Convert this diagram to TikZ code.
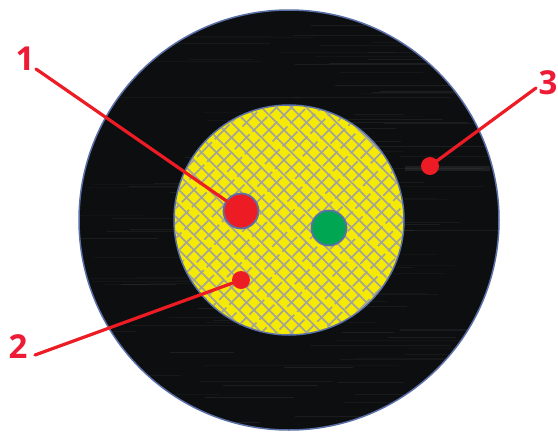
\documentclass[tikz,border=0pt]{standalone}
\usepackage{fontspec}
\setmainfont{Open Sans}
\definecolor{mark}{HTML}{ED1C24}
\definecolor{labelred}{HTML}{ED1B36}
\definecolor{rim}{HTML}{5B6FA8}
\definecolor{jacket}{HTML}{0D0E10}
\definecolor{fill}{HTML}{F5EA05}
\definecolor{weave}{HTML}{A3A29A}
\definecolor{core}{HTML}{00A651}
\begin{document}
\begin{tikzpicture}[x=1pt,y=-1pt,
  disc/.style={circle,draw=rim,inner sep=0pt,outer sep=0pt},
  dot/.style={circle,fill=mark,inner sep=0pt,outer sep=0pt},
  leader/.style={draw=mark,line width=3.2pt,line cap=round},
  num/.style={text=labelred,font=\fontsize{33}{33}\selectfont\bfseries,inner sep=0pt}]
\useasboundingbox (0,0) rectangle (558,432);
\fill[white] (0,0) rectangle (558,432);
% outer jacket
\node[disc,fill=jacket,line width=1.5pt,minimum size=420pt] (outer) at (289,220) {};
\begin{scope}
  \clip (289,220) circle (209.2);
  \pgfmathsetseed{7}
  \foreach \i in {1,...,110}{
    \pgfmathsetmacro{\yy}{12+rnd*416}
    \pgfmathsetmacro{\xa}{70+rnd*340}
    \pgfmathsetmacro{\ln}{40+rnd*160}
    \pgfmathsetmacro{\op}{0.02+rnd*0.05}
    \draw[white,opacity=\op,line width=0.9pt] (\xa,\yy) -- ++(\ln,0);
  }
  \draw[white,opacity=.07,line width=5pt] (405,168) -- (490,168);
  \draw[white,opacity=.05,line width=2pt] (400,330) -- (480,330);
\end{scope}
% filler
\node[disc,fill=fill,line width=1.5pt,minimum size=230pt] (inner) at (289,220) {};
\begin{scope}
  \clip (289,220) circle (114.2);
  \foreach \k in {-30,...,30}{
    \pgfmathsetmacro{\ph}{mod(\k*7+210,25)}
    \draw[weave,line width=1.6pt] ({289+\k*15},90) -- ++(260,260);
    \draw[weave,line width=1.6pt,dash pattern=on 21pt off 4pt,dash phase=\ph pt] ({289+\k*15},350) -- ++(260,-260);
  }
\end{scope}
% cores
\node[disc,fill=mark,line width=1.8pt,minimum size=35pt] (redcore) at (241,211) {};
\node[disc,fill=core,line width=1.8pt,minimum size=35pt] (greencore) at (329,228) {};
% marker dots
\node[dot,minimum size=18pt] (dottwo) at (241,280) {};
\node[dot,minimum size=18pt] (dotthree) at (430,166) {};
% labels
\node[num] (one) at (25,59) {1};
\node[num] (two) at (18,347) {2};
\node[num] (three) at (548,83) {3};
% leaders
\coordinate (endone) at (36,69);
\coordinate (endtwo) at (35,355);
\coordinate (endthree) at (536,88);
\draw[leader] (endone) -- (redcore);
\draw[leader] (endtwo) -- (dottwo);
\draw[leader] (endthree) -- (dotthree);
\end{tikzpicture}
\end{document}
